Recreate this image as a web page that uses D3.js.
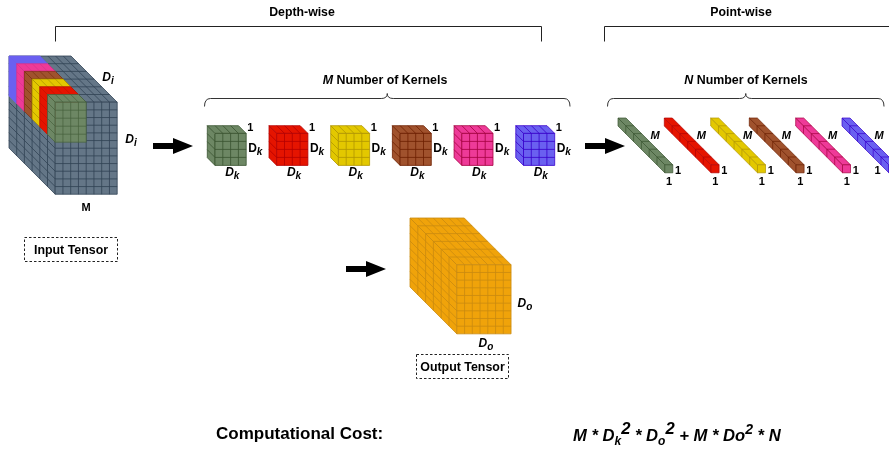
<!DOCTYPE html>
<html>
<head>
<meta charset="utf-8">
<script src="https://cdn.jsdelivr.net/npm/d3@7"></script>
<style>
  html, body { margin: 0; padding: 0; background: #fff; overflow: hidden; }
  svg { filter: blur(0.35px); }
  text { font-family: "Liberation Sans", Arial, sans-serif; font-weight: bold; fill: #000; }
</style>
</head>
<body>
<script>
var width = 889,
    height = 450;

// kernels, back to front in the input tensor
var kernelNames = ["green", "red", "yellow", "brown", "pink", "blue"];
var kernelFills = ["#6d8764", "#e51400", "#e3c800", "#a0522d", "#ee3a98", "#6a60f0"];
var kernelLines = ["#3a5431", "#b20000", "#b09500", "#6d1f00", "#a50040", "#3700cc"];
var sliceLines = ["#46603c", "#c41000", "#a89000", "#7a3010", "#d8308c", "#6a60f0"];
var stripLeft = [618, 664.3, 710.7, 749.3, 795.7, 842];

// grid size of each block: columns, rows, layers
var inputGrid = [8, 12, 6];
var sliceGrid = [4, 5, 1];
var kernelGrid = [4, 4, 1];
var stripGrid = [1, 1, 6];
var outputGrid = [7, 9, 6];

var svg = d3.select("body").append("svg")
    .attr("width", width)
    .attr("height", height)
    .style("display", "block");

var fill = d3.scaleOrdinal().domain(kernelNames).range(kernelFills);
var stroke = d3.scaleOrdinal().domain(kernelNames).range(kernelLines);
var sliceStroke = d3.scaleOrdinal().domain(kernelNames).range(sliceLines);
var kernelX = d3.scalePoint().domain(kernelNames).range([207.3, 515.8]);
var stripX = d3.scaleOrdinal().domain(kernelNames).range(stripLeft);
// the input tensor stacks its slices from blue at the back to green in front
var sliceDepth = d3.scalePoint().domain(kernelNames.slice().reverse()).range([0, 38.5]);

var line = d3.line();

// x, y is the top left corner at the back of the block
function drawBox(x, y, grid, cw, ch, dw, color, lineColor, sw) {
  var cols = grid[0], rows = grid[1], layers = grid[2];
  var w = cols * cw, h = rows * ch, d = layers * dw;
  var g = svg.append("g")
      .attr("stroke", lineColor)
      .attr("stroke-width", sw)
      .attr("stroke-linejoin", "round");

  var faces = [
    [[x, y], [x + d, y + d], [x + d, y + d + h], [x, y + h]],
    [[x, y], [x + w, y], [x + w + d, y + d], [x + d, y + d]],
    [[x + d, y + d], [x + d + w, y + d], [x + d + w, y + d + h], [x + d, y + d + h]]
  ];
  g.selectAll("path.face")
      .data(faces)
    .enter().append("path")
      .attr("class", "face")
      .attr("fill", color)
      .attr("d", function(f) { return line(f) + "Z"; });

  var segs = [];
  d3.range(1, layers).forEach(function(i) {
    segs.push([[x + i * dw, y + i * dw], [x + i * dw, y + i * dw + h]]);
    segs.push([[x + i * dw, y + i * dw], [x + i * dw + w, y + i * dw]]);
  });
  d3.range(1, rows).forEach(function(j) {
    segs.push([[x, y + j * ch], [x + d, y + d + j * ch]]);
    segs.push([[x + d, y + d + j * ch], [x + d + w, y + d + j * ch]]);
  });
  d3.range(1, cols).forEach(function(j) {
    segs.push([[x + j * cw, y], [x + j * cw + d, y + d]]);
    segs.push([[x + d + j * cw, y + d], [x + d + j * cw, y + d + h]]);
  });
  g.selectAll("path.grid")
      .data(segs)
    .enter().append("path")
      .attr("class", "grid")
      .attr("fill", "none")
      .attr("d", line);
}

function label(x, y, size, parts, anchor) {
  var t = svg.append("text")
      .attr("x", x)
      .attr("y", y)
      .attr("font-size", size)
      .attr("text-anchor", anchor || "middle");
  parts.forEach(function(p) {
    t.append("tspan")
        .attr("font-style", p.i ? "italic" : "normal")
        .attr("font-size", p.s || size)
        .attr("dy", p.dy || 0)
        .text(p.t);
  });
  return t;
}

function subLabel(x, y, main, sub, italicMain) {
  return label(x, y, 12, [{t: main, i: italicMain}, {t: sub, i: true, s: 10, dy: 3}]);
}

function arrow(x, y) {
  var a = [[x, y - 3], [x + 20, y - 3], [x + 20, y - 8], [x + 40, y], [x + 20, y + 8], [x + 20, y + 3], [x, y + 3]];
  svg.append("path").attr("d", line(a) + "Z").attr("fill", "#000");
}

function brace(x0, x1, y) {
  var mid = (x0 + x1) / 2, p = d3.path();
  p.moveTo(x0, y + 8);
  p.quadraticCurveTo(x0, y, x0 + 6, y);
  p.lineTo(mid - 6, y);
  p.quadraticCurveTo(mid, y, mid, y - 5);
  p.quadraticCurveTo(mid, y, mid + 6, y);
  p.lineTo(x1 - 6, y);
  p.quadraticCurveTo(x1, y, x1, y + 8);
  svg.append("path").attr("d", p.toString())
      .attr("fill", "none").attr("stroke", "#333").attr("stroke-width", 1);
}

function bracket(x0, x1, y) {
  svg.append("path")
      .attr("d", line([[x0, y + 15], [x0, y], [x1, y], [x1, y + 15]]))
      .attr("fill", "none").attr("stroke", "#222").attr("stroke-width", 1);
}

function dashedBox(x, y, w, h, name) {
  svg.append("rect")
      .attr("x", x).attr("y", y).attr("width", w).attr("height", h)
      .attr("fill", "none").attr("stroke", "#222")
      .attr("stroke-width", 1).attr("stroke-dasharray", "2.5 2");
  label(x + w / 2, y + h / 2 + 4.5, 12.4, [{t: name}]);
}

// headers
label(302, 16, 12.3, [{t: "Depth-wise"}]);
label(741, 16, 12.3, [{t: "Point-wise"}]);
bracket(55.5, 541.5, 26.5);
bracket(604.5, 900, 26.5);

// input tensor
drawBox(9, 56, inputGrid, 7.75, 7.67, 7.7, "#647687", "#314354", 0.8);
kernelNames.slice().reverse().forEach(function(k) {
  var off = sliceDepth(k);
  drawBox(9 + off, 56 + off, sliceGrid, 7.75, 8, 7.7, fill(k), sliceStroke(k), 0.7);
});
label(108, 81, 12, [{t: "D", i: true}, {t: "i", i: true, s: 10, dy: 3}]);
label(131, 143, 12, [{t: "D", i: true}, {t: "i", i: true, s: 10, dy: 3}]);
label(86, 211, 11, [{t: "M"}]);
dashedBox(24.5, 237.5, 93, 24, "Input Tensor");

arrow(153, 146);
arrow(585, 146);
arrow(346, 269);

// M kernels
label(385, 84, 12.4, [{t: "M ", i: true}, {t: "Number of Kernels"}]);
brace(204.5, 570, 98.5);
kernelNames.forEach(function(k) {
  var x = kernelX(k);
  drawBox(x, 125.7, kernelGrid, 7.8, 8, 7.7, fill(k), stroke(k), 0.8);
  label(x + 43, 131, 11, [{t: "1"}]);
  subLabel(x + 48, 152, "D", "k", false);
  subLabel(x + 25, 176, "D", "k", true);
});

// N kernels
label(746, 84, 12.4, [{t: "N ", i: true}, {t: "Number of Kernels"}]);
brace(607.5, 884, 98.5);
kernelNames.forEach(function(k, i) {
  var x = stripX(k), last = i == kernelNames.length - 1;
  drawBox(x, 118, stripGrid, 8, 8, 7.8, fill(k), stroke(k), 0.7);
  label(x + 37, 139, 11, [{t: "M", i: true}]);
  label(last ? x + 35.5 : x + 60, 174, 11, [{t: "1"}]);
  if (!last) label(x + 51, 185, 11, [{t: "1"}]);
});

// output tensor
drawBox(410, 218, outputGrid, 7.75, 7.67, 7.8, "#f0a30a", "#c98a10", 0.8);
label(525, 307, 12, [{t: "D", i: true}, {t: "o", i: true, s: 10, dy: 3}]);
label(486, 347, 12, [{t: "D", i: true}, {t: "o", i: true, s: 10, dy: 3}]);
dashedBox(416.5, 354.5, 92, 24, "Output Tensor");

// cost
label(216, 439, 17, [{t: "Computational Cost:"}], "start");
label(573, 441, 16.6, [
  {t: "M * D", i: true},
  {t: "k", i: true, s: 12, dy: 4},
  {t: "2", i: true, dy: -11},
  {t: " * D", i: true, dy: 7},
  {t: "o", i: true, s: 12, dy: 4},
  {t: "2", i: true, dy: -11},
  {t: " + M * Do", i: true, dy: 7},
  {t: "2", i: true, s: 14, dy: -7},
  {t: " * N", i: true, dy: 7}
], "start");
</script>
</body>
</html>
